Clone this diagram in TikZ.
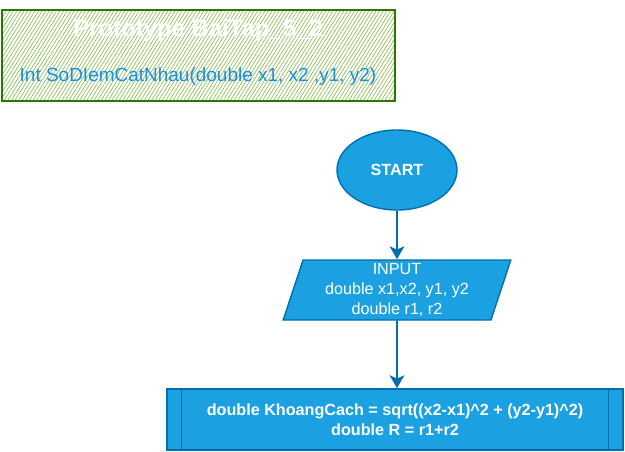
\documentclass[tikz,border=0pt]{standalone}
\usepackage{fontspec}
\setmainfont{Liberation Sans}
\usepackage{xcolor}
\usepackage{tikz}
\usetikzlibrary{shapes.geometric, arrows.meta, patterns.meta}
\definecolor{flowblue}{HTML}{1BA1E2}
\definecolor{flowedge}{HTML}{006EAF}
\definecolor{hatchgreen}{HTML}{60A917}
\definecolor{protoedge}{HTML}{2D7600}
\definecolor{sigblue}{HTML}{1C8FE0}

\begin{document}
\begin{tikzpicture}[
    proto/.style={rectangle, draw=protoedge, line width=0.9pt, minimum width=11.79cm, minimum height=2.73cm,
        pattern={Lines[angle=58, distance=2.6pt, line width=0.5pt]}, pattern color=hatchgreen!80},
    terminal/.style={ellipse, draw=flowedge, fill=flowblue, line width=1.2pt, minimum width=3.6cm, minimum height=2.4cm,
        text=white, font=\fontsize{13.8}{16}\selectfont\bfseries},
    io/.style={trapezium, trapezium left angle=74, trapezium right angle=106, trapezium stretches=true,
        draw=flowedge, fill=flowblue, line width=1.2pt, minimum width=6.84cm, minimum height=1.8cm,
        text=white, align=center, inner sep=0pt, font=\fontsize{13.8}{17}\selectfont},
    process/.style={rectangle, draw=flowedge, fill=flowblue, line width=1.2pt, minimum width=13.68cm, minimum height=1.83cm,
        text=white, align=center, font=\fontsize{13.8}{17}\selectfont\bfseries},
    arr/.style={-{Stealth[length=3.9mm, width=4.4mm, inset=1mm]}, draw=flowedge, line width=1.6pt}
]
\useasboundingbox (0,0) rectangle (18.75,-13.56);

% Prototype
\node[proto] (proto) at (5.955,-1.665) {};
\node[text=white, font=\fontsize{20.4}{24}\selectfont\bfseries] (title) at (5.94,-0.92) {Prototype BaiTap\_5\_2};
\node[text=sigblue, font=\fontsize{16.2}{19}\selectfont] (sig) at (5.94,-2.31) {Int SoDIemCatNhau(double x1, x2 ,y1, y2)};

% Flow
\node[terminal] (start) at (11.91,-5.1) {START};
\node[io] (input) at (11.91,-8.7) {INPUT\\double x1,x2, y1, y2\\double r1, r2};
\node[process] (calc) at (11.85,-12.585) {double KhoangCach = sqrt((x2-x1)\^{}2 + (y2-y1)\^{}2)\\double R = r1+r2};
\draw[flowedge, line width=1.2pt] ([xshift=0.45cm]calc.north west) -- ([xshift=0.45cm]calc.south west);
\draw[flowedge, line width=1.2pt] ([xshift=-0.45cm]calc.north east) -- ([xshift=-0.45cm]calc.south east);

\draw[arr] (start) -- (input);
\draw[arr] (input) -- (input |- calc.north);
\end{tikzpicture}
\end{document}
